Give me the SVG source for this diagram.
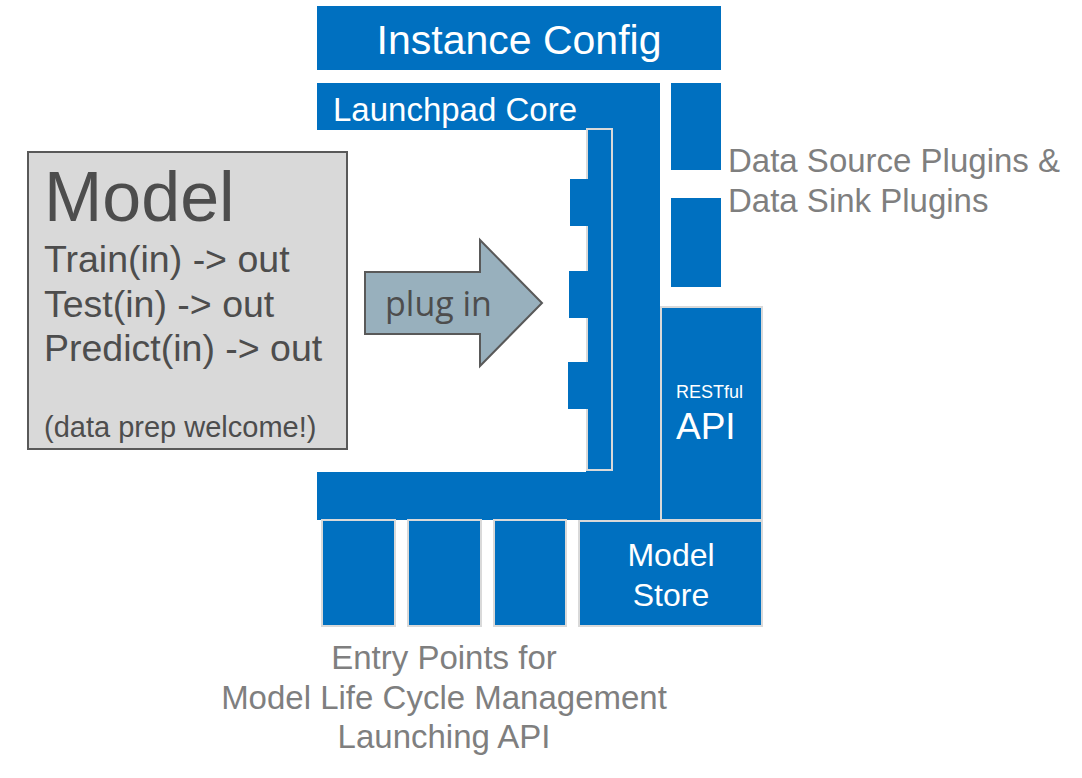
<svg xmlns="http://www.w3.org/2000/svg" width="1082" height="778" viewBox="0 0 1082 778">
<style>
.blue{fill:#0070c0}
.blueb{fill:#0070c0;stroke:#d9d9d9;stroke-width:2}
.wt{fill:#ffffff;font-family:"Liberation Sans",Arial,sans-serif}
.gt{fill:#7f7f7f;font-family:"Liberation Sans",Arial,sans-serif;font-size:33px}
.dt{fill:#4d4d4d;font-family:"Liberation Sans",Arial,sans-serif}
</style>
<rect width="1082" height="778" fill="#ffffff"/>
<g id="instance-config">
<rect class="blue" x="317" y="6" width="404" height="64"/>
<text class="wt" x="519" y="54" font-size="41" text-anchor="middle">Instance Config</text>
</g>
<g id="launchpad-core">
<polygon class="blue" points="317,83 660,83 660,520 317,520 317,472 586,472 586,130 317,130"/>
<rect class="blueb" x="587" y="129" width="25" height="341"/>
<rect class="blue" x="570" y="179" width="18" height="47"/>
<rect class="blue" x="569" y="271" width="19" height="47"/>
<rect class="blue" x="568" y="362" width="20" height="47"/>
<text class="wt" x="333" y="121" font-size="33">Launchpad Core</text>
</g>
<g id="data-plugins">
<rect class="blue" x="671" y="83" width="50" height="87"/>
<rect class="blue" x="671" y="198" width="50" height="89"/>
<text class="gt" x="728" y="172">Data Source Plugins &amp;</text>
<text class="gt" x="728" y="212">Data Sink Plugins</text>
</g>
<g id="restful-api">
<rect class="blueb" x="661" y="307" width="101" height="213"/>
<text class="wt" x="676" y="398" font-size="18">RESTful</text>
<text class="wt" x="676" y="439" font-size="37">API</text>
</g>
<g id="entry-points">
<rect class="blueb" x="322" y="520" width="73" height="106"/>
<rect class="blueb" x="408" y="520" width="73" height="106"/>
<rect class="blueb" x="494" y="520" width="72" height="106"/>
<text class="gt" x="444" y="669" text-anchor="middle">Entry Points for</text>
<text class="gt" x="444" y="709" text-anchor="middle">Model Life Cycle Management</text>
<text class="gt" x="444" y="748" text-anchor="middle">Launching API</text>
</g>
<g id="model-store">
<rect class="blueb" x="579" y="521" width="183" height="105"/>
<text class="wt" x="671" y="566" font-size="32" text-anchor="middle">Model</text>
<text class="wt" x="671" y="606" font-size="32" text-anchor="middle">Store</text>
</g>
<g id="model">
<rect x="28" y="152" width="319" height="297" fill="#d9d9d9" stroke="#595959" stroke-width="2"/>
<text class="dt" x="44" y="221" font-size="70">Model</text>
<text class="dt" x="44" y="272" font-size="37.5">Train(in) -&gt; out</text>
<text class="dt" x="44" y="317" font-size="37.5">Test(in) -&gt; out</text>
<text class="dt" x="44" y="361" font-size="37.5">Predict(in) -&gt; out</text>
<text class="dt" x="44" y="437" font-size="29">(data prep welcome!)</text>
</g>
<g id="connectors">
<g id="plug-in-arrow">
<polygon points="365,272 480,272 480,240 542,303 480,366 480,334 365,334" fill="#98b0bd" stroke="#595959" stroke-width="2"/>
<text x="385" y="316" font-family="'Open Sans','Noto Sans',sans-serif" font-size="34" fill="#4d4d4d">plug in</text>
</g>
</g>
</svg>
